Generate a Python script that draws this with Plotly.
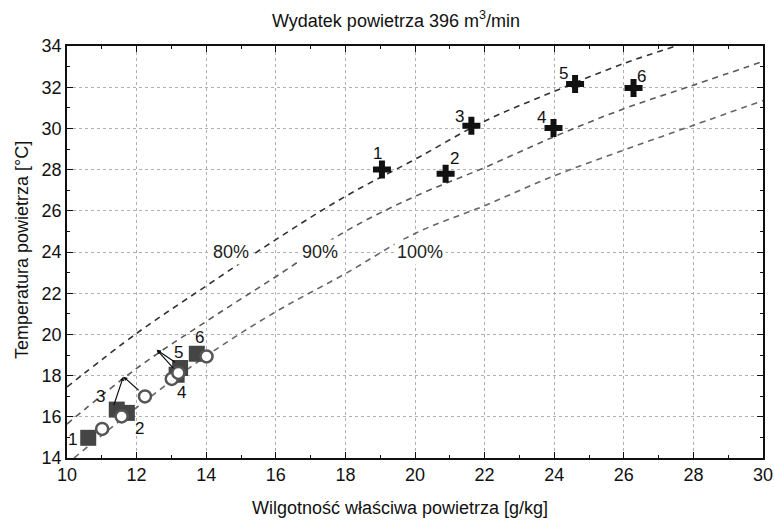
import plotly.graph_objects as go

# --- data ---
# relative-humidity curves (x = specific humidity g/kg, t = temperature °C)
x80 = [10, 12, 14, 16, 18, 20, 22, 24, 26, 27.5]
t80 = [17.45, 20.05, 22.35, 24.6, 26.7, 28.5, 30.35, 31.8, 33.15, 34.0]
x90 = [10, 12, 14, 16, 18, 20, 22, 24, 26, 28, 30]
t90 = [15.65, 18.35, 20.63, 22.8, 25.0, 26.7, 28.1, 29.6, 30.95, 32.1, 33.25]
x100 = [10.2, 12, 14, 16, 18, 20, 22, 24, 26, 28, 30]
t100 = [14.0, 16.45, 18.95, 21.1, 22.95, 24.9, 26.25, 27.7, 28.95, 30.15, 31.35]

curve_labels = ["80%", "90%", "100%"]
curve_label_x = [14.72, 17.28, 20.14]
curve_label_y = [24.0, 24.0, 24.0]

# crosses (upper group)
cross_x = [19.05, 20.88, 21.62, 23.98, 24.6, 26.28]
cross_y = [28.0, 27.8, 30.13, 30.02, 32.15, 31.96]
cross_num = ["1", "2", "3", "4", "5", "6"]
cross_num_x = [18.92, 21.13, 21.27, 23.63, 24.26, 26.51]
cross_num_y = [28.8, 28.55, 30.6, 30.52, 32.68, 32.5]

# squares and circles (lower group)
square_x = [10.61, 11.72, 11.43, 13.15, 13.25, 13.73]
square_y = [14.98, 16.19, 16.35, 18.04, 18.37, 19.06]
circle_x = [11.01, 11.57, 12.24, 13.01, 13.2, 14.01]
circle_y = [15.41, 16.02, 16.99, 17.84, 18.13, 18.93]
low_num = ["1", "2", "3", "4", "5", "6"]
low_num_x = [10.17, 12.07, 10.97, 13.3, 13.2, 13.8]
low_num_y = [14.9, 15.41, 16.99, 17.16, 19.1, 19.87]

# arrows: head (vertex) and tails
arrow_head = [(11.62, 17.95), (11.62, 17.95), (12.58, 19.25), (12.58, 19.25)]
arrow_tail = [(11.33, 16.49), (12.1, 17.22), (13.1, 18.28), (13.15, 18.6)]

FONT = "Liberation Sans"
FS = 18

W, H = 774, 522
L, R, T, B = 67, 11, 45.5, 63.5
pw, ph = W - L - R, H - T - B


def px2paper(px, py):
    return (px - L) / pw, 1 - (py - T) / ph


fig = go.Figure()

for xs, ts, col in [(x80, t80, "#333333"), (x90, t90, "#5a5a5a"), (x100, t100, "#666666")]:
    fig.add_trace(go.Scatter(x=xs, y=ts, mode="lines",
                             line=dict(color=col, width=1.6, dash="6px,5px", shape="spline"),
                             hoverinfo="skip", showlegend=False))

fig.add_trace(go.Scatter(x=square_x, y=square_y, mode="markers",
                         marker=dict(symbol="square", size=16, color="#454545", line=dict(width=0)),
                         showlegend=False))
fig.add_trace(go.Scatter(x=circle_x, y=circle_y, mode="markers",
                         marker=dict(symbol="circle", size=12, color="white", line=dict(width=2.5, color="#555555")),
                         showlegend=False))
fig.add_trace(go.Scatter(x=cross_x, y=cross_y, mode="markers",
                         marker=dict(symbol="cross", size=15, color="#111111", line=dict(width=0)),
                         showlegend=False))

for (hx, hy), (tx, ty) in zip(arrow_head, arrow_tail):
    fig.add_annotation(x=hx, y=hy, ax=tx, ay=ty, xref="x", yref="y", axref="x", ayref="y",
                       text="", showarrow=True, arrowhead=2, arrowsize=0.7, arrowwidth=1.2,
                       arrowcolor="#111111")
for t, x, y in zip(curve_labels, curve_label_x, curve_label_y):
    fig.add_annotation(x=x, y=y, xref="x", yref="y", text=t, showarrow=False, bgcolor="white",
                       borderpad=2, font=dict(family=FONT, size=FS, color="#222222"))
for t, x, y in zip(cross_num, cross_num_x, cross_num_y):
    fig.add_annotation(x=x, y=y, xref="x", yref="y", text=t, showarrow=False,
                       font=dict(family=FONT, size=17, color="#111111"))
for t, x, y in zip(low_num, low_num_x, low_num_y):
    fig.add_annotation(x=x, y=y, xref="x", yref="y", text=t, showarrow=False,
                       font=dict(family=FONT, size=17, color="#111111"))

# titles
tx_, ty_ = px2paper(396, 19)
fig.add_annotation(x=tx_, y=ty_, xref="paper", yref="paper",
                   text="Wydatek powietrza 396 m<sup>3</sup>/min", showarrow=False,
                   xanchor="center", yanchor="middle", font=dict(family=FONT, size=FS, color="#111111"))
ax_, ay_ = px2paper(400, 509)
fig.add_annotation(x=ax_, y=ay_, xref="paper", yref="paper", text="Wilgotność właściwa powietrza [g/kg]",
                   showarrow=False, xanchor="center", yanchor="middle",
                   font=dict(family=FONT, size=FS, color="#111111"))
yx_, yy_ = px2paper(22, 250)
fig.add_annotation(x=yx_, y=yy_, xref="paper", yref="paper", text="Temperatura powietrza [°C]",
                   showarrow=False, xanchor="center", yanchor="middle", textangle=-90,
                   font=dict(family=FONT, size=FS, color="#111111"))

axis_common = dict(showgrid=True, gridcolor="#b0b0b0", griddash="dot", gridwidth=1,
                   showline=True, linecolor="#111111", linewidth=1.5, mirror="allticks",
                   ticks="inside", ticklen=6, tickcolor="#111111", tickwidth=1,
                   minor=dict(ticks="inside", ticklen=3, tickcolor="#111111", dtick=1, showgrid=False),
                   zeroline=False, automargin=False,
                   tickfont=dict(family=FONT, size=FS, color="#111111"))

fig.update_xaxes(range=[10, 30], dtick=2, tick0=10, **axis_common)
fig.update_yaxes(range=[14, 34], dtick=2, tick0=14, **axis_common)

fig.update_layout(width=W, height=H, autosize=False, margin=dict(l=L, r=R, t=T, b=B, pad=0),
                  paper_bgcolor="white", plot_bgcolor="white", showlegend=False,
                  font=dict(family=FONT, size=FS, color="#111111"))

post = ("document.documentElement.style.margin='0';document.body.style.margin='0';"
        "document.documentElement.style.overflow='hidden';document.body.style.overflow='hidden';")
fig.write_html("out.html", post_script=post,
               config={"responsive": False, "displayModeBar": False})
